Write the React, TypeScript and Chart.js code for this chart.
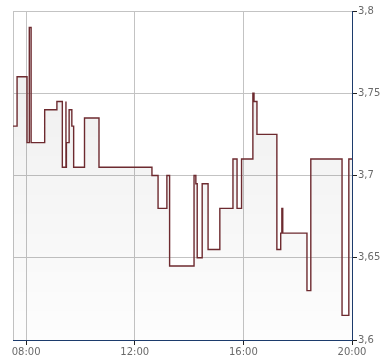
import React, { useEffect, useRef } from 'react';
import { Chart, registerables } from 'chart.js';

Chart.register(...registerables);

// minutes since midnight
const times = [451, 460, 482, 487, 491, 521, 548, 560, 568, 568, 569, 575, 581, 585, 609, 641, 758, 771.5, 791, 797, 851, 855, 858, 869, 882, 908, 937, 946, 956, 981, 983.5, 990, 1034, 1042.5, 1045, 1047, 1100.5, 1109, 1178, 1193, 1200];
const prices = [3.73, 3.76, 3.72, 3.79, 3.72, 3.74, 3.745, 3.705, 3.745, 3.705, 3.72, 3.74, 3.73, 3.705, 3.735, 3.705, 3.70, 3.68, 3.70, 3.645, 3.70, 3.695, 3.65, 3.695, 3.655, 3.68, 3.71, 3.68, 3.71, 3.75, 3.745, 3.725, 3.655, 3.665, 3.68, 3.665, 3.63, 3.71, 3.615, 3.71, 3.71];
const xTicks = [480, 720, 960, 1200];
const yTicks = [3.6, 3.65, 3.7, 3.75, 3.8];

const fmtTime = (m: number) => {
  const h = Math.floor(m / 60);
  const mm = Math.round(m % 60);
  return String(h).padStart(2, '0') + ':' + String(mm).padStart(2, '0');
};
const fmtPrice = (v: number) => String(Number(v.toFixed(2))).replace('.', ',');

const GRID = '#c3c3c3';
const AXIS = '#1c3b6c';
const LINE = '#6d2a2f';

const leftBorder = {
  id: 'leftBorder',
  beforeDatasetsDraw(chart: any) {
    const { ctx, chartArea } = chart;
    ctx.save();
    ctx.strokeStyle = GRID;
    ctx.lineWidth = 1;
    ctx.beginPath();
    ctx.moveTo(Math.round(chartArea.left) + 0.5, chartArea.top);
    ctx.lineTo(Math.round(chartArea.left) + 0.5, chartArea.bottom);
    ctx.stroke();
    ctx.restore();
  },
};

export default function App() {
  const ref = useRef<HTMLCanvasElement>(null);
  useEffect(() => {
    if (!ref.current) return;
    const chart = new Chart(ref.current, {
      type: 'line',
      data: {
        datasets: [
          {
            data: times.map((t, i) => ({ x: t, y: prices[i] })),
            stepped: true,
            borderColor: LINE,
            borderWidth: 1.4,
            pointRadius: 0,
            fill: 'start',
            backgroundColor: (c: any) => {
              const { chart } = c;
              const ca = chart.chartArea;
              if (!ca) return 'rgba(0,0,0,0.04)';
              const g = chart.ctx.createLinearGradient(0, ca.top, 0, ca.bottom);
              g.addColorStop(0, 'rgba(0,0,0,0.075)');
              g.addColorStop(1, 'rgba(0,0,0,0.008)');
              return g;
            },
          },
        ],
      },
      options: {
        animation: false,
        responsive: true,
        maintainAspectRatio: false,
        layout: { padding: { left: 13, top: 11, right: 0, bottom: 0 } },
        plugins: { legend: { display: false }, tooltip: { enabled: false } },
        scales: {
          x: {
            type: 'linear',
            min: 451,
            max: 1200,
            position: 'bottom',
            afterBuildTicks: (s: any) => {
              s.ticks = xTicks.map((v) => ({ value: v }));
            },
            afterFit: (s: any) => {
              s.height = 24;
            },
            ticks: {
              callback: (v: any) => fmtTime(Number(v)),
              color: '#6a6a6a',
              font: { family: 'DejaVu Sans', size: 10 },
              padding: 1,
              maxRotation: 0,
            },
            grid: { color: GRID, tickColor: '#222', tickLength: 5, drawTicks: true },
            border: { color: AXIS, width: 1 },
          },
          y: {
            type: 'linear',
            position: 'right',
            min: 3.6,
            max: 3.8,
            afterBuildTicks: (s: any) => {
              s.ticks = yTicks.map((v) => ({ value: v }));
            },
            afterFit: (s: any) => {
              s.width = 38;
            },
            ticks: {
              callback: (v: any) => fmtPrice(Number(v)),
              color: '#6a6a6a',
              font: { family: 'DejaVu Sans', size: 10 },
              padding: 1,
            },
            grid: { color: GRID, tickColor: '#222', tickLength: 5, drawTicks: true },
            border: { color: AXIS, width: 1 },
          },
        },
      },
      plugins: [leftBorder],
    });
    return () => chart.destroy();
  }, []);
  return (
    <div style={{ position: 'absolute', left: 0, top: 0, width: 390, height: 364, background: '#fff' }}>
      <canvas ref={ref} />
    </div>
  );
}
